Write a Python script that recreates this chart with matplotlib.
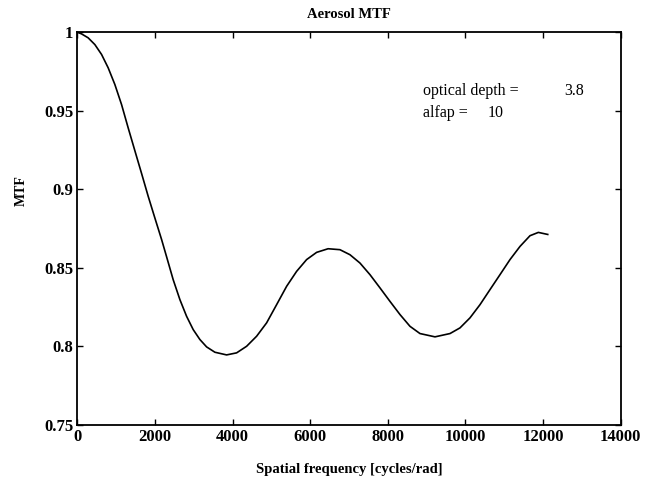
# ---   IMPORTS   --- #
# ------------------- #
import matplotlib
matplotlib.use('Agg')
import matplotlib.pyplot as plt


# ---   SPECIFICATION   --- #
# ------------------------- #
# Spatial frequency [cycles/rad]
FREQ = [
    0, 108, 278, 451, 624, 794, 966, 1139, 1309, 1482, 1655, 1825,
    1997, 2170, 2299, 2469, 2642, 2814, 2985, 3157, 3330, 3544, 3845,
    4103, 4361, 4619, 4876, 5134, 5392, 5649, 5907, 6165, 6460, 6765,
    7023, 7281, 7539, 7796, 8054, 8312, 8570, 8827, 9214, 9601, 9858,
    10116, 10374, 10632, 10889, 11147, 11405, 11662, 11877, 12119
]

# MTF values
MTF = [
    1.0, 0.9989, 0.9964, 0.9921, 0.9858, 0.9773, 0.9667, 0.9539,
    0.9391, 0.9245, 0.9100, 0.8955, 0.8817, 0.8680, 0.8570, 0.8424,
    0.8297, 0.8191, 0.8106, 0.8043, 0.7996, 0.7962, 0.7945, 0.7958,
    0.8000, 0.8064, 0.8149, 0.8265, 0.8382, 0.8477, 0.8552, 0.8598,
    0.8621, 0.8615, 0.8583, 0.8530, 0.8456, 0.8372, 0.8286, 0.8202,
    0.8127, 0.8081, 0.8060, 0.8081, 0.8117, 0.8181, 0.8265, 0.8361,
    0.8456, 0.8552, 0.8636, 0.8704, 0.8725, 0.8712
]

X_TICKS = [0, 2000, 4000, 6000, 8000, 10000, 12000, 14000]
Y_TICKS = [0.75, 0.8, 0.85, 0.9, 0.95, 1.0]
Y_TICK_LABELS = ['0.75', '0.8', '0.85', '0.9', '0.95', '1']

OPTICAL_DEPTH = '3.8'
ALFAP = '10'

FONT = ['Liberation Serif', 'DejaVu Serif']


# ---   METHODS   --- #
# ------------------- #
def graph():
    fig = plt.figure(figsize=(6.5, 4.8), dpi=100)
    ax = fig.add_axes([0.119, 0.115, 0.836, 0.818])
    # Plot data
    ax.plot(FREQ, MTF, color='black', lw=1.2, solid_joinstyle='round')
    # Annotations
    ax.text(8900, 0.9625, 'optical depth =', fontsize=11.5, family=FONT,
            va='center', ha='left')
    ax.text(12540, 0.9625, OPTICAL_DEPTH, fontsize=11.5, family=FONT,
            va='center', ha='left')
    ax.text(8900, 0.9487, 'alfap =', fontsize=11.5, family=FONT,
            va='center', ha='left')
    ax.text(10560, 0.9487, ALFAP, fontsize=11.5, family=FONT,
            va='center', ha='left')
    # Format axes
    ax.set_xlim(0, 14000)
    ax.set_ylim(0.75, 1.0)
    ax.set_xticks(X_TICKS)
    ax.set_xticklabels([str(t) for t in X_TICKS], family=FONT,
                       fontweight='bold', fontsize=12)
    ax.set_yticks(Y_TICKS)
    ax.set_yticklabels(Y_TICK_LABELS, family=FONT, fontweight='bold',
                       fontsize=12)
    ax.tick_params(axis='both', which='both', direction='in', length=4,
                   width=1.0, top=True, right=True, pad=3)
    for axis in ['top', 'bottom', 'left', 'right']:
        ax.spines[axis].set_linewidth(1.3)
    ax.set_title('Aerosol MTF', family=FONT, fontweight='bold',
                 fontsize=10.5, pad=10.5)
    ax.set_xlabel('Spatial frequency [cycles/rad]', family=FONT,
                  fontweight='bold', fontsize=10.5, labelpad=13)
    # The y label sits near the 0.9 tick, not at the axis centre
    fig.text(21 / 650, 1 - 190.5 / 480, 'MTF', family=FONT,
             fontweight='bold', fontsize=10, rotation=90,
             ha='center', va='center')
    fig.savefig('out.png', dpi=100)


# ---     MAIN     --- #
# -------------------- #
if __name__ == '__main__':
    graph()
